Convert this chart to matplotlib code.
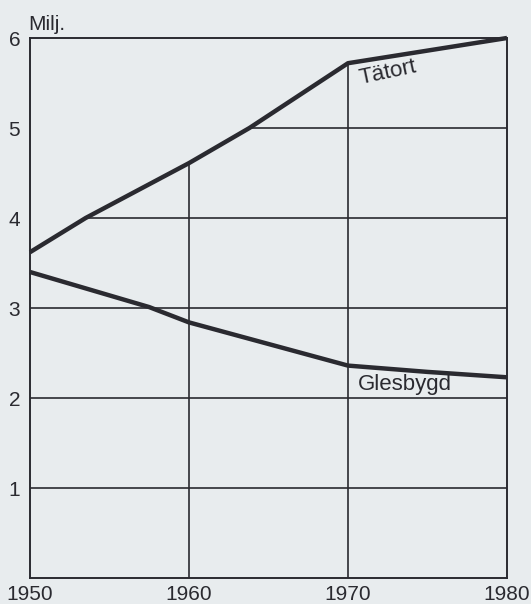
import matplotlib
matplotlib.use("Agg")
import matplotlib.pyplot as plt
from matplotlib.patches import Polygon

# Befolkning i tätort och glesbygd, miljoner
tatort_ar = [1950, 1953.5, 1960, 1963.8, 1970, 1980]
tatort = [3.62, 4.0, 4.61, 5.0, 5.72, 6.0]

gles_ar = [1950, 1957.5, 1960, 1970, 1975, 1980]
glesbygd = [3.40, 3.01, 2.84, 2.36, 2.29, 2.23]

xticks = [1950, 1960, 1970, 1980]
yticks = [1, 2, 3, 4, 5, 6]

bg = "#e8ecee"
ink = "#2a2a30"

plt.rcParams['font.family'] = ['Liberation Sans', 'DejaVu Sans']

fig = plt.figure(figsize=(5.31, 6.04), dpi=100, facecolor=bg)
ax = fig.add_axes([30 / 531, 26 / 604, 477 / 531, 540 / 604])
ax.set_facecolor(bg)
ax.set_xlim(1950, 1980)
ax.set_ylim(0, 6)

# rutnätet syns bara under tätortskurvan
clip = Polygon(list(zip(tatort_ar, tatort)) + [(1980, 0), (1950, 0)],
               closed=True, transform=ax.transData, facecolor="none", edgecolor="none")
ax.add_patch(clip)
for y in yticks[:-1]:
    ln = ax.axhline(y, color=ink, lw=1.2, zorder=1)
    ln.set_clip_path(clip)
for x in xticks[1:-1]:
    ln = ax.axvline(x, color=ink, lw=1.2, zorder=1)
    ln.set_clip_path(clip)

ax.plot(tatort_ar, tatort, color=ink, lw=3.2, solid_capstyle="butt", zorder=3, clip_on=False)
ax.plot(gles_ar, glesbygd, color=ink, lw=3.2, solid_capstyle="butt", zorder=3, clip_on=False)

ax.text(1972.5, 5.62, "Tätort", fontsize=16, color=ink, rotation=12,
        ha="center", va="center")
ax.text(1973.6, 2.09, "Glesbygd", fontsize=16, color=ink, ha="center", va="baseline")

for s in ax.spines.values():
    s.set_color(ink)
    s.set_linewidth(1.4)

ax.set_xticks(xticks)
ax.set_yticks(yticks)
ax.tick_params(length=0, labelsize=15, colors=ink)
ax.tick_params(axis="y", pad=7)
ax.tick_params(axis="x", pad=5)

fig.text(28 / 531, 1 - 24 / 604, "Milj.", fontsize=15, color=ink, ha="left", va="center")

fig.savefig("out.png", dpi=100, facecolor=bg)
